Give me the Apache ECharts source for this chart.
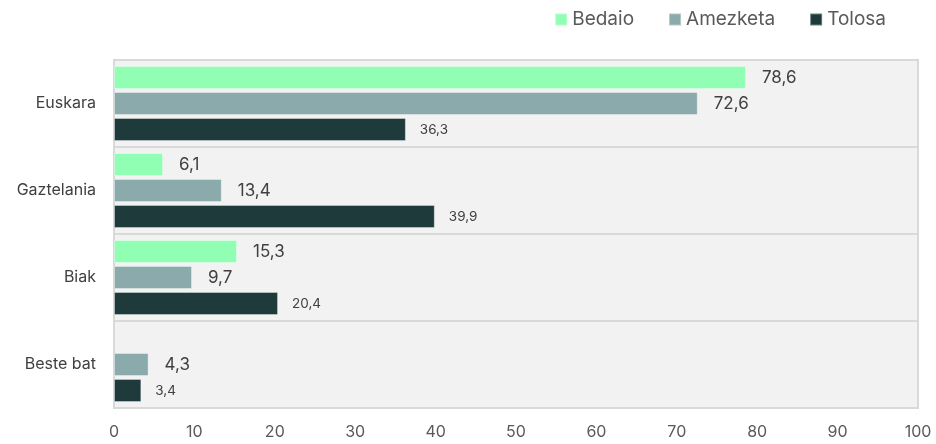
<!DOCTYPE html>
<html>
<head>
<meta charset="utf-8">
<script src="https://cdn.jsdelivr.net/npm/echarts@6/dist/echarts.min.js"></script>
<style>
  html, body { margin: 0; padding: 0; background: #fff; }
  #chart { width: 936px; height: 444px; }
</style>
</head>
<body>
<div id="chart"></div>
<script>
const categories = ['Euskara', 'Gaztelania', 'Biak', 'Beste bat'];
const bedaio = [78.6, 6.1, 15.3, null];
const amezketa = [72.6, 13.4, 9.7, 4.3];
const tolosa = [36.3, 39.9, 20.4, 3.4];

const fmt = p => p.value == null ? '' : String(p.value).replace('.', ',');
const font = 'Inter, "Open Sans", sans-serif';

function barSeries(name, data, color, size, dist) {
  return {
    name: name,
    type: 'bar',
    data: data,
    barWidth: 23,
    barGap: '13%',
    barCategoryGap: '14%',
    itemStyle: { color: color, borderColor: 'rgba(255,255,255,0.35)', borderWidth: 1 },
    label: {
      show: true, position: 'right', distance: dist,
      formatter: fmt, color: '#404040', fontSize: size, fontFamily: font
    }
  };
}

const chart = echarts.init(document.getElementById('chart'));
chart.setOption({
  animation: false,
  legend: {
    right: 45, top: 5,
    icon: 'rect', itemWidth: 12, itemHeight: 12, itemGap: 34,
    textStyle: { color: '#595959', fontSize: 19, fontFamily: font }
  },
  grid: {
    left: 114, right: 18, top: 60, bottom: 36,
    show: true, backgroundColor: '#F2F2F2', borderColor: '#D9D9D9', borderWidth: 2
  },
  xAxis: {
    type: 'value', min: 0, max: 100, interval: 10,
    axisLine: { show: false }, axisTick: { show: false }, splitLine: { show: false },
    axisLabel: { color: '#595959', fontSize: 16, fontFamily: font, margin: 16 }
  },
  yAxis: {
    type: 'category', data: categories, inverse: true,
    axisLine: { show: false }, axisTick: { show: false },
    splitLine: { show: true, lineStyle: { color: '#D9D9D9', width: 2 } },
    axisLabel: { color: '#404040', fontSize: 16, fontFamily: font, margin: 18 }
  },
  series: [
    barSeries('Bedaio', bedaio, '#90FFB4', 17, 16),
    barSeries('Amezketa', amezketa, '#8AAAAB', 17, 16),
    barSeries('Tolosa', tolosa, '#1F3A3A', 13.5, 14)
  ]
});
</script>
</body>
</html>
